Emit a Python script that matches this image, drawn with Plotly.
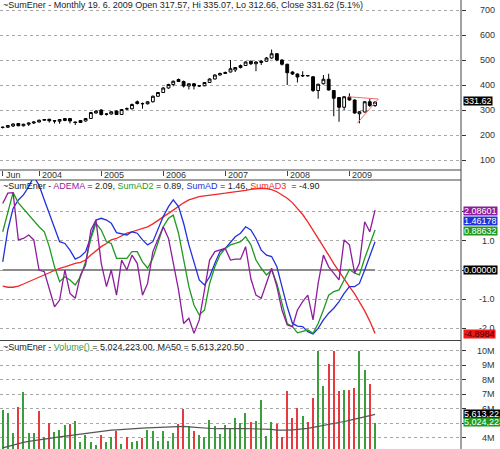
import pandas as pd
import plotly.graph_objects as go

# ---------------- data ----------------
dates = pd.date_range(start="2003-06-01", periods=73, freq="MS")

opens = [230, 231, 236, 246, 237, 243, 248, 252, 259, 263, 257, 255, 258, 266, 252, 250, 256, 266, 288, 300,
         283, 284, 296, 282, 304, 305, 333, 326, 325, 333, 355, 370, 388, 402, 422, 414, 396, 405, 396, 397,
         410, 424, 440, 446, 452, 460, 470, 478, 495, 485, 490, 495, 508, 525, 500, 483, 452, 444, 436, 438,
         433, 378, 405, 423, 378, 350, 311, 352, 340, 285, 292, 333, 317.57]
highs = [234, 240, 247, 248, 245, 250, 255, 262, 264, 265, 260, 264, 268, 268, 254, 260, 268, 292, 300, 303,
         288, 295, 298, 304, 310, 326, 338, 330, 335, 358, 372, 392, 405, 418, 426, 418, 408, 408, 400, 412,
         427, 443, 450, 454, 500, 472, 482, 495, 498, 495, 500, 512, 542, 528, 503, 485, 455, 446, 455, 440,
         436, 405, 440, 445, 380, 352, 356, 367, 342, 296, 336, 345, 335.07]
lows = [226, 228, 232, 235, 234, 236, 244, 250, 256, 250, 246, 245, 255, 246, 240, 248, 254, 264, 286, 278,
        278, 282, 280, 280, 300, 302, 322, 305, 322, 330, 352, 368, 385, 395, 412, 390, 382, 382, 392, 395,
        408, 422, 438, 444, 450, 452, 466, 476, 480, 455, 480, 492, 505, 495, 478, 400, 440, 410, 432, 434,
        372, 345, 402, 378, 275, 253, 300, 338, 285, 247, 290, 312, 312.66]
closes = [231, 238, 244, 237, 243, 248, 252, 259, 262, 257, 256, 262, 266, 256, 250, 258, 266, 290, 295, 282,
          284, 293, 282, 302, 305, 322, 326, 325, 333, 355, 370, 388, 402, 415, 414, 396, 405, 396, 397, 410,
          424, 440, 446, 450, 465, 470, 478, 492, 485, 492, 495, 508, 525, 500, 483, 449, 444, 432, 438, 437,
          378, 403, 423, 380, 347, 311, 353, 340, 288, 293, 333, 318, 331.62]

# triangle trend lines (drawn on price panel)
trend_upper_x = ["2008-12-25", "2009-06-20"]
trend_upper_y = [353, 344]
trend_lower_x = ["2009-02-16", "2009-06-20"]
trend_lower_y = [247, 344]

adema = [2.28, 2.63, 2.65, 1.03, 1.08, 1.2, 1.03, 0.0, -0.06, -0.68, -1.26, -1.03, 0.0, -0.8, -0.97, -0.17,
         0.17, 1.37, 1.71, 0.23, -0.57, 0.0, -0.86, 0.34, 0.0, 0.51, 0.23, -0.86, -0.46, 0.63, 1.03, 1.48,
         1.08, 0.23, -0.68, -1.83, -1.65, -2.17, -1.71, -0.68, 0.34, 0.63, 0.68, 0.74, 0.34, 0.37, 0.37, 0.8,
         -0.3, -0.86, -0.97, -0.46, 0.06, -0.57, -1.37, -1.88, -1.94, -1.37, -1.08, -0.86, -1.71, -0.46, 0.51,
         0.11, -0.11, -0.34, 1.03, 0.86, -0.11, 0.23, 1.65, 1.31, 2.05]
sumad2 = [1.31, 1.95, 2.65, 2.3, 2.1, 1.88, 1.71, 1.48, 1.31, 0.8, 0.11, -0.4, -0.23, -0.34, -0.51, -0.23,
          0.28, 1.08, 1.6, 1.37, 0.97, 0.91, 0.4, 0.4, 0.4, 0.63, 0.63, 0.28, 0.06, 0.4, 0.91, 1.48,
          1.77, 1.88, 1.26, 0.34, -0.57, -1.2, -1.54, -1.37, -0.46, 0.11, 0.51, 0.74, 0.86, 0.91, 0.97, 1.14,
          0.86, 0.34, 0.06, -0.17, 0.0, -0.46, -1.14, -1.83, -1.94, -2.15, -2.1, -2.05, -2.17, -1.83, -1.37,
          -0.86, -0.74, -0.68, -0.34, 0.02, -0.11, -0.17, 0.4, 0.91, 1.37]
sumad = [0.28, 1.37, 2.11, 2.4, 2.57, 2.85, 3.2, 2.9, 2.4, 1.94, 1.48, 0.97, 0.91, 0.68, 0.37, 0.46,
         0.63, 1.14, 1.71, 1.77, 1.71, 1.6, 1.28, 1.23, 1.2, 1.31, 1.26, 1.03, 0.86, 0.97, 1.37, 1.83,
         2.17, 2.4, 2.17, 1.6, 0.86, 0.23, -0.34, -0.51, -0.23, 0.23, 0.63, 0.74, 0.97, 1.14, 1.26, 1.48,
         1.37, 1.08, 0.68, 0.51, 0.46, 0.11, -0.57, -1.26, -1.83, -1.92, -1.94, -2.11, -2.19, -2.0, -1.71,
         -1.48, -1.31, -1.08, -0.8, -0.57, -0.57, -0.46, 0.0, 0.46, 0.97]
sumad3 = [-0.55, -0.59, -0.59, -0.55, -0.48, -0.4, -0.32, -0.23, -0.15, -0.08, 0.0, 0.06, 0.11, 0.17, 0.23, 0.26,
          0.34, 0.51, 0.66, 0.8, 0.91, 1.03, 1.08, 1.16, 1.26, 1.31, 1.37, 1.43, 1.48, 1.58, 1.69, 1.83,
          1.94, 2.05, 2.19, 2.3, 2.4, 2.46, 2.51, 2.54, 2.57, 2.6, 2.61, 2.63, 2.65, 2.67, 2.7, 2.73,
          2.76, 2.78, 2.8, 2.79, 2.75, 2.68, 2.58, 2.46, 2.3, 2.11, 1.9, 1.65, 1.37, 1.08, 0.8,
          0.51, 0.22, -0.06, -0.32, -0.57, -0.82, -1.08, -1.4, -1.75, -2.17]

volume_m = [5.9, 5.71, 4.32, 6.13, 7.17, 4.35, 4.35, 5.83, 4.04, 5.04, 4.37, 4.56, 4.85, 4.97, 5.13, 3.7,
            4.16, 3.7, 3.47, 4.16, 3.7, 4.04, 4.44, 3.58, 4.04, 3.7, 3.81, 3.97, 4.56, 4.49, 3.81, 4.44,
            3.81, 4.32, 4.92, 6.01, 4.78, 4.49, 4.16, 4.06, 5.25, 4.78, 4.28, 4.85, 4.69, 5.39, 5.01, 5.71,
            5.06, 5.13, 6.59, 4.11, 5.1, 4.97, 4.06, 7.22, 5.34, 6.03, 5.48, 5.06, 6.71, 10.0, 7.56,
            9.07, 9.94, 7.22, 7.26, 7.28, 7.44, 10.0, 8.67, 7.7, 5.024223]
volume_up = [1, 1, 1, 0, 1, 1, 1, 0, 1, 0, 1, 1, 1, 0, 1, 1,
             1, 1, 1, 0, 1, 1, 0, 1, 0, 1, 1, 0, 1, 1, 1, 1,
             1, 1, 0, 0, 1, 0, 1, 1, 1, 1, 1, 1, 1, 1, 1, 1,
             0, 1, 1, 1, 1, 0, 0, 0, 0, 0, 1, 0, 0, 1, 1,
             0, 0, 0, 1, 0, 0, 1, 1, 0, 1]
ma50_m = [3.3, 3.4, 3.5, 3.6, 3.68, 3.75, 3.81, 3.86, 3.91, 3.96, 4.01, 4.06, 4.11, 4.16, 4.21, 4.26,
          4.31, 4.36, 4.41, 4.46, 4.49, 4.52, 4.55, 4.58, 4.6, 4.62, 4.64, 4.66, 4.68, 4.7, 4.72, 4.74,
          4.76, 4.77, 4.78, 4.78, 4.75, 4.72, 4.69, 4.66, 4.63, 4.62, 4.63, 4.64, 4.65, 4.65, 4.64, 4.63,
          4.62, 4.62, 4.62, 4.6, 4.58, 4.53, 4.51, 4.52, 4.55, 4.58, 4.6, 4.65, 4.72, 4.78, 4.85,
          4.92, 4.99, 5.05, 5.12, 5.2, 5.27, 5.35, 5.43, 5.52, 5.613]

year_tick_dates = ["2003-06-01", "2004-01-01", "2005-01-01", "2006-01-01", "2007-01-01", "2008-01-01", "2009-01-01"]
year_tick_text = ["Jun", "2004", "2005", "2006", "2007", "2008", "2009"]
price_ticks = [100, 200, 300, 400, 500, 600, 700]
osc_ticks = [-2, -1, 0, 1, 2]
osc_tick_text = ["-2.0", "-1.0", "0.0", "1.0", "2.0"]
vol_ticks_m = [4, 5, 6, 7, 8, 9, 10]

# ---------------- layout helpers ----------------
H = 449.0
def py(px):
    return 1 - px / H

FONT = "Liberation Sans Narrow, Liberation Sans, Arial, sans-serif"
PURPLE = "#8e1d9e"
GREEN = "#1f9a1f"
BLUE = "#2230dc"
RED = "#f02828"
VGREEN = "#3c9d3c"
VRED = "#e63a3f"

fig = go.Figure()

fig.add_trace(go.Candlestick(
    x=dates, open=opens, high=highs, low=lows, close=closes,
    increasing=dict(line=dict(color="black", width=1), fillcolor="white"),
    decreasing=dict(line=dict(color="black", width=1), fillcolor="black"),
    whiskerwidth=0, xaxis="x", yaxis="y", showlegend=False, hoverinfo="skip"))
fig.add_trace(go.Scatter(x=trend_upper_x, y=trend_upper_y, mode="lines",
                         line=dict(color="#ee7070", width=1), xaxis="x", yaxis="y", showlegend=False))
fig.add_trace(go.Scatter(x=trend_lower_x, y=trend_lower_y, mode="lines",
                         line=dict(color="#ee7070", width=1), xaxis="x", yaxis="y", showlegend=False))

fig.add_trace(go.Scatter(x=[dates[0], dates[-1]], y=[0, 0], mode="lines",
                         line=dict(color="#8c8c8c", width=2), xaxis="x2", yaxis="y2", showlegend=False))
for ser, col in [(sumad3, RED), (sumad, BLUE), (sumad2, GREEN), (adema, PURPLE)]:
    fig.add_trace(go.Scatter(x=dates, y=ser, mode="lines", line=dict(color=col, width=1.3),
                             xaxis="x2", yaxis="y2", showlegend=False))

vol = [v * 1e6 for v in volume_m]
ma50 = [v * 1e6 for v in ma50_m]
fig.add_trace(go.Bar(x=dates, y=vol, marker=dict(color=[VGREEN if u else VRED for u in volume_up], line_width=0),
                     width=8 * 86400000, xaxis="x3", yaxis="y3", showlegend=False))
fig.add_trace(go.Scatter(x=dates, y=ma50, mode="lines", line=dict(color="#555555", width=1.2),
                         xaxis="x3", yaxis="y3", showlegend=False))

xr = ["2003-05-16", "2010-10-20"]
grid = dict(showgrid=True, gridcolor="#a8a8a8", griddash="dot", gridwidth=1)
yax_common = dict(side="right", ticks="outside", ticklen=4, tickcolor="#333", showticklabels=False,
                  zeroline=False, showline=False, fixedrange=True)

fig.update_layout(
    width=500, height=449, autosize=False,
    margin=dict(l=0, r=39, t=0, b=0, pad=0),
    paper_bgcolor="white", plot_bgcolor="white",
    font=dict(family=FONT, size=9, color="#222"),
    bargap=0, boxgap=0.15,
    xaxis=dict(domain=[0, 1], range=xr, type="date", anchor="y", tickvals=year_tick_dates,
               ticks="outside", ticklen=5, tickcolor="#444", showticklabels=False, showgrid=False,
               zeroline=False, rangeslider=dict(visible=False)),
    xaxis2=dict(domain=[0, 1], range=xr, type="date", anchor="y2", showticklabels=False, ticks="",
                showgrid=False, zeroline=False),
    xaxis3=dict(domain=[0, 1], range=xr, type="date", anchor="y3", showticklabels=False, ticks="",
                showgrid=False, zeroline=False),
    yaxis=dict(domain=[py(170), 1], range=[60, 740], tickvals=price_ticks, anchor="x", **grid, **yax_common),
    yaxis2=dict(domain=[py(340), py(180)], range=[-2.397, 3.082], tickvals=osc_ticks, anchor="x2",
                **grid, **yax_common),
    yaxis3=dict(domain=[0, py(341)], range=[3.227e6, 10.66e6], tickvals=[v * 1e6 for v in vol_ticks_m],
                anchor="x3", **grid, **yax_common),
)

# frame lines
shapes = []
for ypx in [170, 180, 340.5]:
    shapes.append(dict(type="line", xref="paper", yref="paper", x0=0, x1=1, y0=py(ypx), y1=py(ypx),
                       line=dict(color="#444", width=1)))
shapes.append(dict(type="line", xref="paper", yref="paper", x0=1, x1=1, y0=0, y1=1,
                   line=dict(color="#444", width=1)))
fig.update_layout(shapes=shapes)

ann = []
LBLX = 497 / 461.0
# axis labels (right side, right aligned)
for v in price_ticks:
    ann.append(dict(x=LBLX, xref="paper", y=v, yref="y", text=str(v), showarrow=False,
                    xanchor="right", yanchor="middle", font=dict(size=9, color="#333")))
for v, t in zip(osc_ticks, osc_tick_text):
    ann.append(dict(x=LBLX, xref="paper", y=v, yref="y2", text=t, showarrow=False,
                    xanchor="right", yanchor="middle", font=dict(size=9, color="#333")))
for v in vol_ticks_m:
    ann.append(dict(x=LBLX, xref="paper", y=v * 1e6, yref="y3", text=f"{v}M", showarrow=False,
                    xanchor="right", yanchor="middle", font=dict(size=9, color="#333")))

# x labels (to the right of the ticks)
for d, t in zip(year_tick_dates, year_tick_text):
    ann.append(dict(x=d, xref="x", y=py(175), yref="paper", text=t, showarrow=False,
                    xanchor="left", yanchor="middle", xshift=1, font=dict(size=9, color="#333")))

# panel titles
ann.append(dict(x=0, xref="paper", y=py(5), yref="paper", xanchor="left", yanchor="middle", xshift=1,
                showarrow=False, font=dict(size=9, color="#222"),
                text="~SumEner - Monthly 19. 6. 2009 Open 317.57, Hi 335.07, Lo 312.66, Close 331.62 (5.1%)"))
ann.append(dict(x=0, xref="paper", y=py(186), yref="paper", xanchor="left", yanchor="middle", xshift=1,
                showarrow=False, font=dict(size=9, color="#222"),
                text=(f"~SumEner - <span style='color:{PURPLE}'>ADEMA</span> = 2.09, "
                      f"<span style='color:{GREEN}'>SumAD2</span> = 0.89, "
                      f"<span style='color:{BLUE}'>SumAD</span> = 1.46, "
                      f"<span style='color:{RED}'>SumAD3</span>  = -4.90")))
ann.append(dict(x=0, xref="paper", y=py(346.5), yref="paper", xanchor="left", yanchor="middle", xshift=1,
                showarrow=False, font=dict(size=9, color="#222"),
                text=f"~SumEner - <span style='color:{VGREEN}'>Volume()</span> = 5,024,223.00, MA50 = 5,613,220.50"))

# value boxes on the right axis
BOXX = 462.5 / 461.0
def box(text, ypx, bg, fg="white"):
    ann.append(dict(x=BOXX, xref="paper", y=py(ypx), yref="paper", text=text, showarrow=False,
                    xanchor="left", yanchor="middle", bgcolor=bg, borderpad=0, height=8,
                    font=dict(size=9, color=fg)))

box("331.62", 101.5, "black")
box("2.08601", 211, PURPLE)
box("1.46178", 221, BLUE)
box("0.88632", 231, GREEN)
box("0.00000", 270, "black")
box("-4.8984", 334, "#f01818", "#400000")
box("5,613,221", 414, "black")
box("5,024,223", 421.5, "#1f9a1f")

fig.update_layout(annotations=ann)
fig.write_html("out.html")
